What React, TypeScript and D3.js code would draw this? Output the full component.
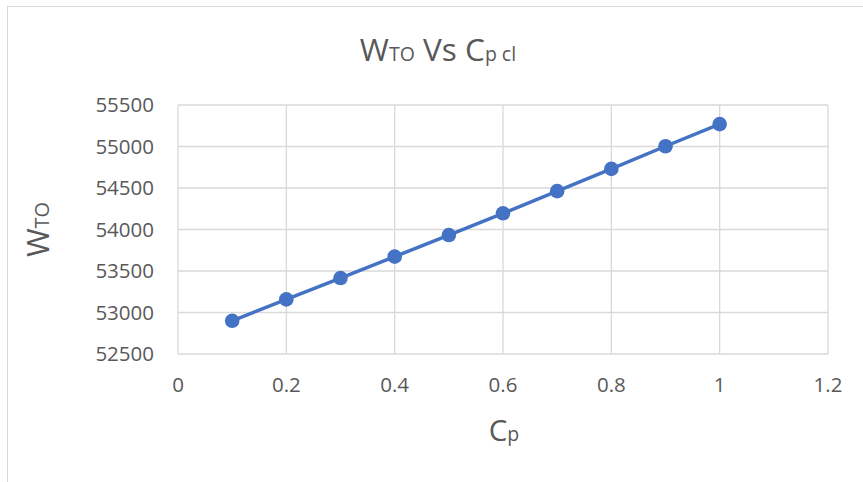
import React from "react";
import * as d3 from "d3";

const cpValues: number[] = [0.1, 0.2, 0.3, 0.4, 0.5, 0.6, 0.7, 0.8, 0.9, 1.0];
const wtoValues: number[] = [52900, 53158, 53415, 53673, 53933, 54195, 54462, 54730, 55003, 55270];
const xTicks: number[] = [0, 0.2, 0.4, 0.6, 0.8, 1.0, 1.2];
const yTicks: number[] = [52500, 53000, 53500, 54000, 54500, 55000, 55500];

const W = 863;
const H = 482;
const FONT = "'Open Sans', 'Liberation Sans', sans-serif";
const TEXT = "#595959";
const GRID = "#d9d9d9";
const BLUE = "#4472C4";

export default function App() {
  const x = d3.scaleLinear().domain([0, 1.2]).range([178, 828]);
  const y = d3.scaleLinear().domain([52500, 55500]).range([354, 105]);
  const pts = cpValues.map((c, i) => [x(c), y(wtoValues[i])] as [number, number]);
  const line = d3.line()(pts) || "";
  const fmtX = (v: number) => (v === 0 ? "0" : v === 1 ? "1" : d3.format(".1f")(v));

  return (
    <svg
      width={W}
      height={H}
      style={{ position: "absolute", left: 0, top: 0, background: "#fff" }}
      fontFamily={FONT}
    >
      <rect x={7.5} y={6.5} width={W + 20} height={H + 20} fill="#fff" stroke={GRID} strokeWidth={1} />
      {/* title */}
      <text x={438} y={61} textAnchor="middle" fill={TEXT} fontSize={31.5}>
        <tspan>W</tspan>
        <tspan fontSize={19.5}>TO</tspan>
        <tspan> Vs C</tspan>
        <tspan fontSize={19.5}>p cl</tspan>
      </text>
      {/* grid */}
      {yTicks.map((t) => (
        <line key={"gy" + t} x1={x(0)} x2={x(1.2)} y1={y(t)} y2={y(t)} stroke={GRID} strokeWidth={1.3} />
      ))}
      {xTicks.map((t) => (
        <line key={"gx" + t} x1={x(t)} x2={x(t)} y1={y(55500)} y2={y(52500)} stroke={GRID} strokeWidth={1.3} />
      ))}
      {/* y tick labels */}
      {yTicks.map((t) => (
        <text key={"ty" + t} x={154} y={y(t)} dy="0.36em" textAnchor="end" fill={TEXT} fontSize={20.5}>
          {t}
        </text>
      ))}
      {/* x tick labels */}
      {xTicks.map((t) => (
        <text key={"tx" + t} x={x(t)} y={385} dy="0.36em" textAnchor="middle" fill={TEXT} fontSize={20.5}>
          {fmtX(t)}
        </text>
      ))}
      {/* axis titles */}
      <text x={504} y={441} textAnchor="middle" fill={TEXT} fontSize={29.5}>
        <tspan>C</tspan>
        <tspan fontSize={19.5}>p</tspan>
      </text>
      <text
        transform={`translate(49,${(y(55500) + y(52500)) / 2}) rotate(-90)`}
        textAnchor="middle"
        fill={TEXT}
        fontSize={31}
      >
        <tspan>W</tspan>
        <tspan fontSize={20}>TO</tspan>
      </text>
      {/* series */}
      <path d={line} fill="none" stroke={BLUE} strokeWidth={3.5} strokeLinejoin="round" />
      {pts.map((p, i) => (
        <circle key={i} cx={p[0]} cy={p[1]} r={7.3} fill={BLUE} />
      ))}
    </svg>
  );
}
